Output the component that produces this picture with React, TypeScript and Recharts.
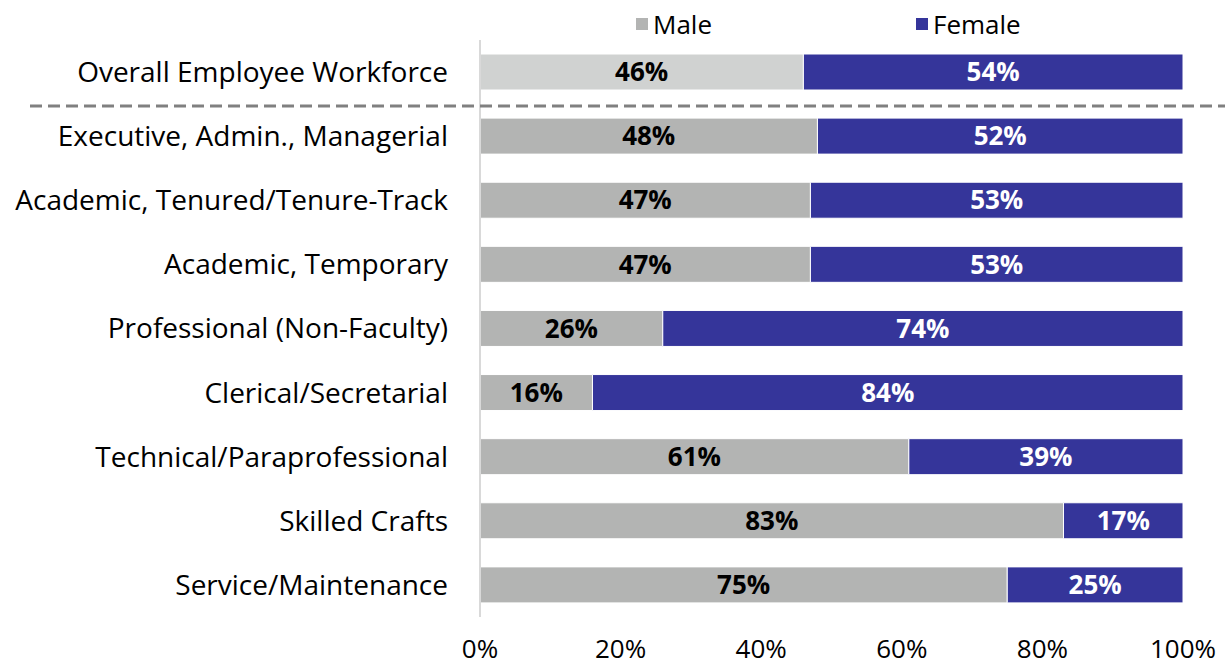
import { BarChart, Bar, XAxis, YAxis, Cell, LabelList } from "recharts";

const categories = [
  "Overall Employee Workforce",
  "Executive, Admin., Managerial",
  "Academic, Tenured/Tenure-Track",
  "Academic, Temporary",
  "Professional (Non-Faculty)",
  "Clerical/Secretarial",
  "Technical/Paraprofessional",
  "Skilled Crafts",
  "Service/Maintenance",
];
const malePct = [46, 48, 47, 47, 26, 16, 61, 83, 75];
const femalePct = [54, 52, 53, 53, 74, 84, 39, 17, 25];
const xTicks = [0, 20, 40, 60, 80, 100];

const data = categories.map((name, i) => ({ name, male: malePct[i], female: femalePct[i] }));

const FONT = "'Open Sans', sans-serif";
const MALE = "#b3b4b3";
const MALE_OVERALL = "#d0d2d1";
const FEMALE = "#35359a";

export default function App() {
  return (
    <div style={{ position: "absolute", left: 0, top: 0, width: 1225, height: 668, background: "#fff", fontFamily: FONT }}>
      {/* legend */}
      <div style={{ position: "absolute", left: 636, top: 6, display: "flex", alignItems: "center", fontSize: 26, color: "#000" }}>
        <span style={{ width: 12, height: 12, background: MALE, marginRight: 5 }} />
        Male
      </div>
      <div style={{ position: "absolute", left: 916, top: 6, display: "flex", alignItems: "center", fontSize: 26, color: "#000" }}>
        <span style={{ width: 12, height: 12, background: FEMALE, marginRight: 5 }} />
        Female
      </div>
      <BarChart
        width={1225}
        height={668}
        data={data}
        layout="vertical"
        margin={{ top: 40, right: 42, bottom: 0, left: 10 }}
        barSize={36}
      >
        <XAxis
          type="number"
          domain={[0, 100]}
          ticks={xTicks}
          tickFormatter={(v) => `${v}%`}
          axisLine={false}
          tickLine={false}
          tickSize={0}
          tickMargin={23}
          height={51}
          tick={{ fill: "#000", fontSize: 26, fontFamily: FONT }}
          interval={0}
        />
        <YAxis
          type="category"
          dataKey="name"
          width={470}
          axisLine={{ stroke: "#d9d9d9", strokeWidth: 2 }}
          tickLine={false}
          tickSize={0}
          tickMargin={32}
          interval={0}
          tick={{ fill: "#000", fontSize: 28, fontFamily: FONT }}
        />
        <Bar dataKey="male" stackId="a" isAnimationActive={false} stroke="#fff" strokeWidth={1}>
          {data.map((d, i) => (
            <Cell key={d.name} fill={i === 0 ? MALE_OVERALL : MALE} />
          ))}
          <LabelList
            dataKey="male"
            position="center"
            formatter={(v: number) => `${v}%`}
            style={{ fill: "#000", fontSize: 26, fontWeight: 700, fontFamily: FONT }}
          />
        </Bar>
        <Bar dataKey="female" stackId="a" fill={FEMALE} isAnimationActive={false} stroke="#fff" strokeWidth={1}>
          <LabelList
            dataKey="female"
            position="center"
            formatter={(v: number) => `${v}%`}
            style={{ fill: "#fff", fontSize: 26, fontWeight: 700, fontFamily: FONT }}
          />
        </Bar>
      </BarChart>
      {/* separator between overall and detail rows */}
      <svg style={{ position: "absolute", left: 0, top: 0 }} width={1225} height={668} pointerEvents="none">
        <line x1={30} x2={1225} y1={106} y2={106} stroke="#808080" strokeWidth={3} strokeDasharray="12 6" />
      </svg>
    </div>
  );
}
